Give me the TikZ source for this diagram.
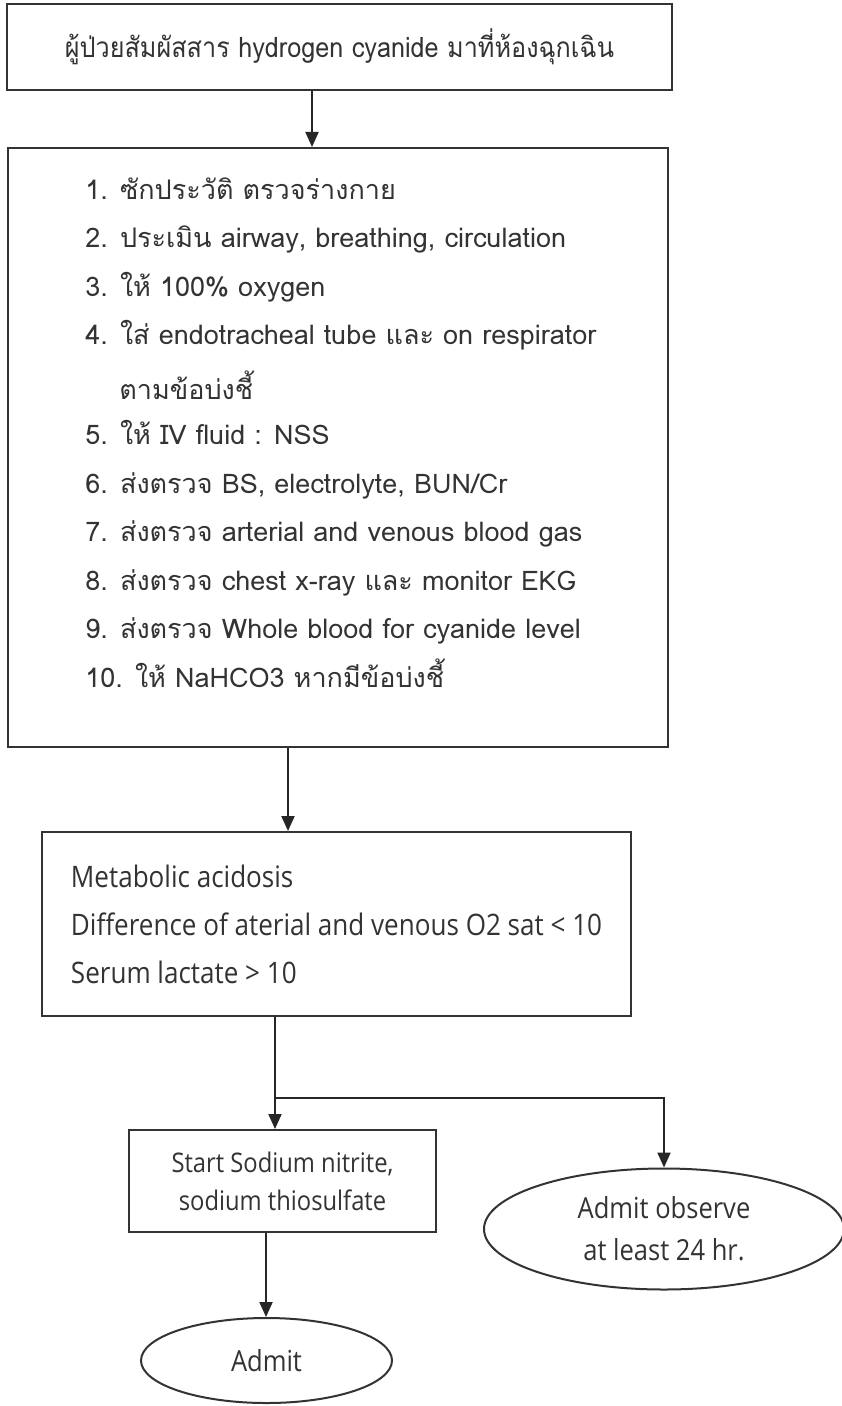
\documentclass[tikz,border=0pt]{standalone}
\usepackage{fontspec}
\usetikzlibrary{arrows.meta,shapes.geometric}
\newfontfamily\thaifont[Script=Thai]{Loma}
\newfontfamily\thaicond[Script=Thai,FakeStretch=0.9]{Loma}
\newfontfamily\latinfont{Open Sans}[FakeStretch=0.88]

\begin{document}
\begin{tikzpicture}[x=0.5pt,y=-0.5pt,
    box/.style={draw=black!80,line width=1pt,rectangle,inner sep=0pt},
    oval/.style={draw=black!80,line width=1pt,ellipse,inner sep=0pt},
    arr/.style={draw=black!85,line width=1pt,-{Triangle[length=7.5pt,width=6.5pt]}},
    font=\latinfont\fontsize{14.5}{21}\selectfont,text=black!80]
    % page of 841 x 1406 px
    \useasboundingbox (0,0) rectangle (841,1406);

    % boxes, placed at pixel coordinates
    \node[box,minimum width=332.5pt,minimum height=43pt,
        font=\thaicond\fontsize{14}{16}\selectfont] (patient) at (339.5,47)
        {ผู้ป่วยสัมผัสสาร hydrogen cyanide มาที่ห้องฉุกเฉิน};
    \node[box,minimum width=330pt,minimum height=299.5pt] (workup) at (338,447.5) {};
    \node[anchor=north west,align=left,inner sep=0pt,
        font=\thaifont\fontsize{13.5}{24.25}\selectfont] (steps) at (85,177)
        {1. ซักประวัติ ตรวจร่างกาย\\
         2. ประเมิน airway, breathing, circulation\\
         3. ให้ 100\% oxygen\\
         4. ใส่ endotracheal tube และ on respirator\\[3pt]
         \hspace*{17pt}ตามข้อบ่งชี้\\[-1.5pt]
         5. ให้ IV fluid : NSS\\
         6. ส่งตรวจ BS, electrolyte, BUN/Cr\\
         7. ส่งตรวจ arterial and venous blood gas\\
         8. ส่งตรวจ chest x-ray และ monitor EKG\\
         9. ส่งตรวจ Whole blood for cyanide level\\
         10. ให้ NaHCO3 หากมีข้อบ่งชี้};
    \node[box,minimum width=294.5pt,minimum height=92pt,align=left,
        font=\latinfont\fontsize{14.8}{24}\selectfont] (acidosis) at (336.5,924)
        {Metabolic acidosis\\
         Difference of aterial and venous O2 sat < 10\\
         Serum lactate > 10};
    \node[box,minimum width=153.5pt,minimum height=51pt,align=center,
        font=\latinfont\fontsize{13.5}{19}\selectfont] (antidote) at (282.5,1181)
        {Start Sodium nitrite,\\sodium thiosulfate};
    \node[oval,minimum width=180pt,minimum height=60.5pt,align=center] (observe) at (664,1229)
        {Admit observe\\at least 24 hr.};
    \node[oval,minimum width=125.5pt,minimum height=42.5pt] (admit) at (266.5,1360.5) {Admit};

    % connectors
    \coordinate (c1) at (312,0);
    \coordinate (c2) at (288,0);
    \coordinate (c3) at (275,0);
    \coordinate (c4) at (266,0);
    \coordinate (split) at (275,1098);
    \draw[arr] (patient.south -| c1) -- (workup.north -| c1);
    \draw[arr] (workup.south -| c2) -- (acidosis.north -| c2);
    \draw[draw=black!85,line width=1pt] (acidosis.south -| c3) -- (split);
    \draw[arr] (split) -- (antidote.north -| c3);
    \draw[arr] (split) -| (observe.north);
    \draw[arr] (antidote.south -| c4) -- (admit.north -| c4);
\end{tikzpicture}
\end{document}
